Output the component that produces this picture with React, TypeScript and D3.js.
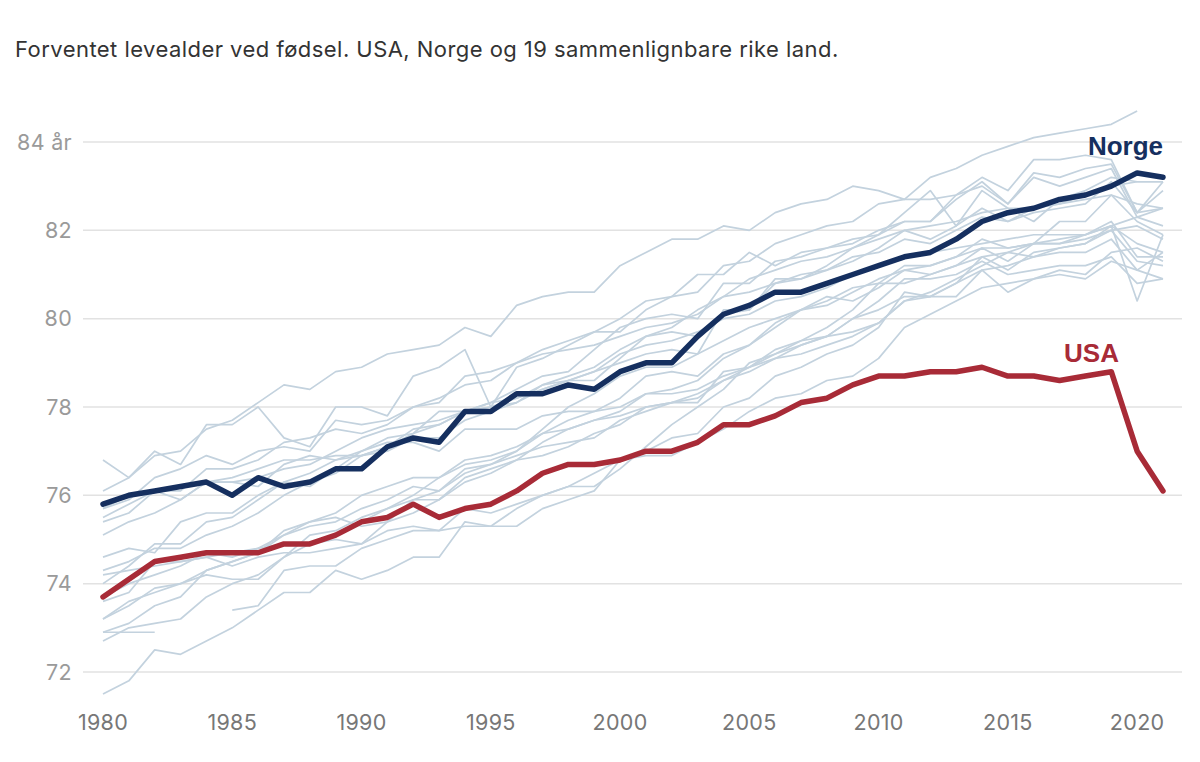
import React, { useEffect, useRef } from "react";
import * as d3 from "d3";

const years = d3.range(1980, 2022);
const yTicks = [72, 74, 76, 78, 80, 82, 84];
const xTicks = [1980, 1985, 1990, 1995, 2000, 2005, 2010, 2015, 2020];
const title = "Forventet levealder ved fødsel. USA, Norge og 19 sammenlignbare rike land.";

const norge = [
  75.8, 76.0, 76.1, 76.2, 76.3, 76.0, 76.4, 76.2, 76.3, 76.6,
  76.6, 77.1, 77.3, 77.2, 77.9, 77.9, 78.3, 78.3, 78.5, 78.4,
  78.8, 79.0, 79.0, 79.6, 80.1, 80.3, 80.6, 80.6, 80.8, 81.0,
  81.2, 81.4, 81.5, 81.8, 82.2, 82.4, 82.5, 82.7, 82.8, 83.0,
  83.3, 83.2,
];

const usa = [
  73.7, 74.1, 74.5, 74.6, 74.7, 74.7, 74.7, 74.9, 74.9, 75.1,
  75.4, 75.5, 75.8, 75.5, 75.7, 75.8, 76.1, 76.5, 76.7, 76.7,
  76.8, 77.0, 77.0, 77.2, 77.6, 77.6, 77.8, 78.1, 78.2, 78.5,
  78.7, 78.7, 78.8, 78.8, 78.9, 78.7, 78.7, 78.6, 78.7, 78.8,
  77.0, 76.1,
];

// de 19 sammenlignbare landene (lys grå-blå)
const japan = [
  76.1, 76.4, 76.9, 77.0, 77.5, 77.7, 78.1, 78.5, 78.4, 78.8,
  78.9, 79.2, 79.3, 79.4, 79.8, 79.6, 80.3, 80.5, 80.6, 80.6,
  81.2, 81.5, 81.8, 81.8, 82.1, 82.0, 82.4, 82.6, 82.7, 83.0,
  82.9, 82.7, 83.2, 83.4, 83.7, 83.9, 84.1, 84.2, 84.3, 84.4,
  84.7, null,
];
const island = [
  76.8, 76.4, 77.0, 76.7, 77.6, 77.6, 78.0, 77.3, 77.1, 78.0,
  78.0, 77.8, 78.7, 78.9, 79.3, 78.0, 78.9, 79.1, 79.4, 79.7,
  79.7, 80.2, 80.5, 81.0, 81.0, 81.5, 81.2, 81.5, 81.6, 81.8,
  81.9, 82.4, 82.9, 82.1, 82.9, 82.5, 82.2, 82.7, 82.9, 83.2,
  83.1, 83.1,
];
const sverige = [
  75.7, 75.9, 76.4, 76.6, 76.9, 76.7, 77.0, 77.1, 77.0, 77.7,
  77.6, 77.7, 78.0, 78.1, 78.7, 78.8, 79.0, 79.2, 79.3, 79.4,
  79.6, 79.8, 79.9, 80.1, 80.5, 80.6, 80.8, 80.9, 81.1, 81.4,
  81.5, 81.8, 81.7, 82.0, 82.3, 82.2, 82.4, 82.5, 82.6, 83.1,
  82.4, 82.9,
];
const sveits = [
  75.5, 75.8, 76.1, 76.1, 76.6, 76.6, 76.8, 77.2, 77.3, 77.5,
  77.4, 77.6, 78.0, 78.2, 78.5, 78.6, 79.0, 79.3, 79.5, 79.7,
  80.0, 80.4, 80.5, 80.6, 81.2, 81.3, 81.7, 81.9, 82.1, 82.2,
  82.6, 82.7, 82.7, 82.8, 83.2, 82.9, 83.6, 83.6, 83.7, 83.6,
  82.4, 83.1,
];
const spania = [
  75.4, 75.6, 76.1, 75.9, 76.3, 76.4, 76.6, 76.8, 76.8, 76.9,
  76.9, 77.1, 77.5, 77.6, 77.9, 78.0, 78.1, 78.5, 78.6, 78.6,
  79.1, 79.6, 79.7, 79.6, 80.1, 80.2, 80.9, 80.9, 81.2, 81.6,
  81.9, 82.2, 82.2, 82.8, 83.0, 82.6, 83.3, 83.2, 83.4, 83.5,
  82.4, 82.5,
];
const italia = [
  74.0, 74.4, 74.9, 74.9, 75.4, 75.5, 75.9, 76.3, 76.5, 76.8,
  76.9, 77.1, 77.4, 77.6, 77.9, 78.1, 78.4, 78.7, 78.8, 79.3,
  79.8, 80.0, 80.1, 80.0, 80.8, 80.8, 81.3, 81.4, 81.6, 81.7,
  82.0, 82.2, 82.2, 82.7, 83.1, 82.6, 83.2, 83.0, 83.2, 83.4,
  82.3, 82.5,
];
const frankrike = [
  74.3, 74.5, 74.8, 74.8, 75.1, 75.3, 75.6, 76.0, 76.3, 76.5,
  76.9, 77.0, 77.3, 77.3, 77.7, 77.9, 78.1, 78.4, 78.6, 78.8,
  79.0, 79.2, 79.3, 79.2, 80.2, 80.2, 80.8, 81.0, 81.1, 81.3,
  81.6, 82.0, 81.8, 82.1, 82.5, 82.2, 82.5, 82.6, 82.7, 82.8,
  82.2, 81.9,
];
const australia = [
  74.6, 74.8, 74.7, 75.4, 75.6, 75.6, 76.0, 76.3, 76.2, 76.6,
  77.0, 77.3, 77.4, 77.9, 77.9, 78.1, 78.2, 78.5, 78.7, 78.9,
  79.3, 79.6, 79.8, 80.2, 80.5, 80.9, 81.1, 81.3, 81.4, 81.6,
  81.8, 82.0, 82.1, 82.2, 82.4, 82.5, 82.5, 82.6, 82.8, 83.0,
  83.1, 83.1,
];
const canada = [
  75.1, 75.4, 75.6, 75.9, 76.3, 76.3, 76.4, 76.6, 76.7, 77.0,
  77.3, 77.5, 77.6, 77.7, 77.9, 78.0, 78.2, 78.4, 78.6, 78.8,
  79.2, 79.4, 79.5, 79.7, 80.0, 80.1, 80.4, 80.5, 80.7, 81.0,
  81.2, 81.4, 81.5, 81.6, 81.7, 81.8, 81.9, 81.9, 81.9, 82.1,
  81.7, 81.5,
];
const nederland = [
  75.7, 76.0, 76.1, 76.2, 76.3, 76.3, 76.2, 76.7, 76.9, 76.8,
  77.0, 77.2, 77.2, 77.0, 77.5, 77.5, 77.5, 77.8, 77.9, 77.9,
  78.0, 78.3, 78.4, 78.6, 79.1, 79.4, 79.8, 80.2, 80.4, 80.7,
  80.8, 81.2, 81.2, 81.4, 81.8, 81.6, 81.7, 81.8, 81.9, 82.2,
  81.4, 81.4,
];
const danmark = [
  74.2, 74.3, 74.4, 74.5, 74.6, 74.7, 74.8, 74.9, 74.9, 75.0,
  74.9, 75.2, 75.3, 75.2, 75.3, 75.3, 75.7, 76.0, 76.2, 76.5,
  76.8, 76.9, 76.9, 77.2, 77.5, 77.9, 78.2, 78.3, 78.6, 78.7,
  79.1, 79.8, 80.1, 80.4, 80.7, 80.8, 80.9, 81.1, 81.0, 81.5,
  81.6, 81.3,
];
const finland = [
  73.6, 73.8, 74.5, 74.5, 74.6, 74.4, 74.6, 74.7, 74.7, 74.8,
  74.9, 75.4, 75.6, 75.9, 76.4, 76.6, 76.8, 76.9, 77.1, 77.4,
  77.6, 78.0, 78.1, 78.3, 78.6, 78.8, 79.1, 79.2, 79.4, 79.6,
  79.9, 80.4, 80.6, 80.9, 81.2, 81.5, 81.4, 81.6, 81.7, 82.0,
  82.1, 81.8,
];
const storbritannia = [
  73.7, 74.0, 74.2, 74.4, 74.7, 74.6, 74.8, 75.1, 75.3, 75.4,
  75.7, 75.9, 76.2, 76.1, 76.6, 76.7, 76.9, 77.1, 77.2, 77.3,
  77.7, 77.9, 78.1, 78.2, 78.6, 78.9, 79.2, 79.4, 79.6, 80.0,
  80.4, 80.9, 80.9, 81.0, 81.3, 81.0, 81.1, 81.2, 81.2, 81.4,
  80.8, 80.9,
];
const belgia = [
  73.2, 73.5, 73.9, 74.0, 74.3, 74.5, 74.7, 75.1, 75.4, 75.6,
  76.0, 76.2, 76.4, 76.4, 76.8, 76.9, 77.1, 77.4, 77.5, 77.7,
  77.8, 78.0, 78.1, 78.1, 78.8, 78.9, 79.3, 79.5, 79.6, 80.0,
  80.2, 80.5, 80.5, 80.8, 81.4, 81.1, 81.5, 81.6, 81.7, 82.1,
  80.4, 81.9,
];
const osterrike = [
  72.7, 73.0, 73.1, 73.2, 73.7, 74.0, 74.2, 74.6, 75.1, 75.2,
  75.5, 75.7, 75.9, 76.1, 76.5, 76.7, 77.0, 77.4, 77.7, 77.9,
  78.2, 78.7, 78.8, 78.7, 79.2, 79.4, 79.9, 80.2, 80.5, 80.4,
  80.7, 81.1, 81.0, 81.2, 81.6, 81.3, 81.7, 81.7, 81.8, 82.0,
  81.3, 81.2,
];
const tyskland = [
  72.9, 73.1, 73.5, 73.7, 74.3, 74.5, 74.7, 75.2, 75.4, 75.5,
  75.3, 75.4, 75.9, 75.9, 76.3, 76.5, 76.8, 77.2, 77.5, 77.7,
  77.9, 78.3, 78.3, 78.4, 78.7, 78.9, 79.1, 79.4, 79.6, 79.7,
  79.9, 80.4, 80.5, 80.5, 81.1, 80.6, 80.9, 81.0, 80.9, 81.3,
  81.1, 80.9,
];
const irland = [
  72.9, 72.9, 72.9, null, null, 73.4, 73.5, 74.3, 74.4, 74.4,
  74.8, 75.0, 75.2, 75.2, 75.7, 75.6, 75.8, 76.0, 76.2, 76.2,
  76.6, 77.1, 77.6, 78.0, 78.4, 79.0, 79.2, 79.5, 79.8, 80.2,
  80.8, 80.8, 81.0, 81.2, 81.4, 81.5, 81.7, 82.2, 82.2, 82.8,
  82.6, 82.5,
];
const newZealand = [
  73.2, 73.6, 73.8, 74.0, 74.2, 74.1, 74.1, 74.6, 74.9, 75.1,
  75.4, 75.7, 76.0, 76.4, 76.7, 76.8, 77.0, 77.5, 78.0, 78.3,
  78.7, 78.9, 78.9, 79.2, 79.5, 79.8, 80.0, 80.2, 80.3, 80.6,
  80.9, 81.1, 81.2, 81.4, 81.6, 81.6, 81.7, 81.7, 81.9, 82.1,
  82.3, 82.1,
];
const portugal = [
  71.5, 71.8, 72.5, 72.4, 72.7, 73.0, 73.4, 73.8, 73.8, 74.3,
  74.1, 74.3, 74.6, 74.6, 75.4, 75.3, 75.3, 75.7, 75.9, 76.1,
  76.8, 77.0, 77.3, 77.4, 78.0, 78.2, 78.7, 78.9, 79.2, 79.4,
  79.8, 80.6, 80.5, 80.8, 81.1, 81.2, 81.4, 81.5, 81.5, 81.8,
  81.1, 81.5,
];

const andreLand = [
  japan, island, sverige, sveits, spania, italia, frankrike, australia, canada,
  nederland, danmark, finland, storbritannia, belgia, osterrike, tyskland,
  irland, newZealand, portugal,
];

const W = 1200;
const H = 762;
const font = "Inter, 'Noto Sans', sans-serif";
const boldFont = "'Liberation Sans', Arial, sans-serif";

export default function App() {
  const svgRef = useRef<SVGSVGElement | null>(null);

  useEffect(() => {
    document.body.style.margin = "0";
    if (!svgRef.current) return;

    const x = d3.scaleLinear().domain([1980, 2021]).range([103, 1163]);
    const y = d3.scaleLinear().domain([72, 84]).range([672, 142]);

    const svg = d3.select(svgRef.current);
    svg.selectAll("*").remove();

    svg.append("rect").attr("width", W).attr("height", H).attr("fill", "#fff");

    svg.append("text")
      .attr("x", 15)
      .attr("y", 57)
      .attr("font-family", font)
      .attr("font-size", 22)
      .attr("letter-spacing", 0.45)
      .attr("fill", "#333")
      .text(title);

    // rutenett + y-etiketter
    const grid = svg.append("g");
    grid.selectAll("line")
      .data(yTicks)
      .join("line")
      .attr("x1", 83)
      .attr("x2", 1182)
      .attr("y1", d => y(d))
      .attr("y2", d => y(d))
      .attr("stroke", "#e2e2e2")
      .attr("stroke-width", 1.5);

    grid.selectAll("text")
      .data(yTicks)
      .join("text")
      .attr("x", 72)
      .attr("y", d => y(d))
      .attr("dy", "0.36em")
      .attr("text-anchor", "end")
      .attr("font-family", font)
      .attr("font-size", 21.5)
      .attr("letter-spacing", 0.3)
      .attr("fill", "#9a9a9a")
      .text(d => (d === 84 ? "84 år" : String(d)));

    // x-etiketter
    svg.append("g")
      .selectAll("text")
      .data(xTicks)
      .join("text")
      .attr("x", d => x(d))
      .attr("y", 722)
      .attr("dy", "0.36em")
      .attr("text-anchor", "middle")
      .attr("font-family", font)
      .attr("font-size", 21.5)
      .attr("letter-spacing", 0.3)
      .attr("fill", "#777")
      .text(d => String(d));

    const line = d3.line<number | null>()
      .defined(d => d != null)
      .x((_, i) => x(years[i]))
      .y(d => y(d as number));

    svg.append("g")
      .selectAll("path")
      .data(andreLand)
      .join("path")
      .attr("d", d => line(d))
      .attr("fill", "none")
      .attr("stroke", "#c3d2de")
      .attr("stroke-width", 1.7)
      .attr("stroke-linejoin", "round");

    svg.append("path")
      .attr("d", line(usa))
      .attr("fill", "none")
      .attr("stroke", "#a82b37")
      .attr("stroke-width", 5.5)
      .attr("stroke-linejoin", "round")
      .attr("stroke-linecap", "round");

    svg.append("path")
      .attr("d", line(norge))
      .attr("fill", "none")
      .attr("stroke", "#152f5f")
      .attr("stroke-width", 5.5)
      .attr("stroke-linejoin", "round")
      .attr("stroke-linecap", "round");

    svg.append("text")
      .attr("x", x(2021))
      .attr("y", 155)
      .attr("text-anchor", "end")
      .attr("font-family", boldFont)
      .attr("font-weight", "bold")
      .attr("font-size", 26)
      .attr("fill", "#152f5f")
      .text("Norge");

    svg.append("text")
      .attr("x", 1119)
      .attr("y", 362)
      .attr("text-anchor", "end")
      .attr("font-family", boldFont)
      .attr("font-weight", "bold")
      .attr("font-size", 26)
      .attr("fill", "#a82b37")
      .text("USA");
  }, []);

  return <svg ref={svgRef} width={W} height={H} style={{ display: "block" }} />;
}
